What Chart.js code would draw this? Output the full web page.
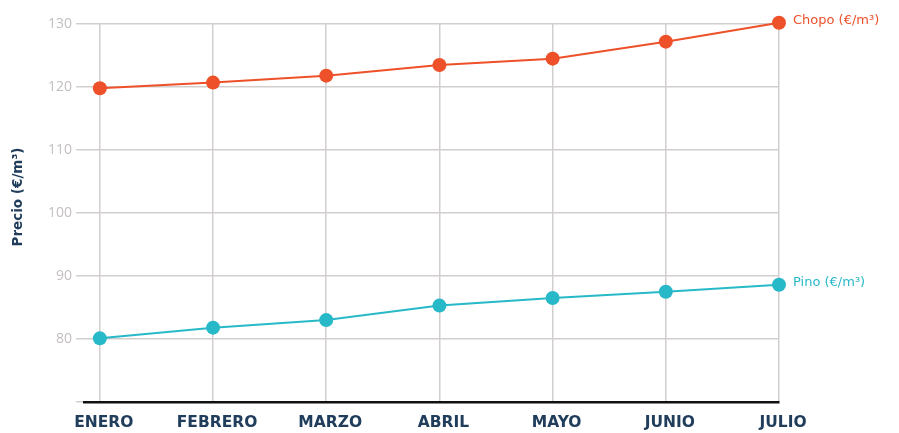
<!DOCTYPE html>
<html>
<head>
<meta charset="utf-8">
<script src="https://cdn.jsdelivr.net/npm/chart.js@4/dist/chart.umd.min.js"></script>
<style>
  html, body { margin: 0; padding: 0; background: #fff; }
  #wrap { width: 899px; height: 433px; }
</style>
</head>
<body>
<div id="wrap"><canvas id="grafico"></canvas></div>
<script>
// Datos
const meses = ['ENERO', 'FEBRERO', 'MARZO', 'ABRIL', 'MAYO', 'JUNIO', 'JULIO'];
const chopo = [119.8, 120.7, 121.8, 123.5, 124.5, 127.2, 130.2];
const pino = [80.1, 81.8, 83.0, 85.3, 86.5, 87.5, 88.6];
const yTicks = [70, 80, 90, 100, 110, 120, 130];

const NARANJA = '#ee5029';
const TURQUESA = '#27b9c8';
const AZUL = '#203d5c';
const GRID = '#d3cece';

// Etiqueta al final de cada serie
const etiquetasFinal = {
    id: 'etiquetasFinal',
    afterDatasetsDraw(chart) {
        const ctx = chart.ctx;
        ctx.save();
        ctx.font = '13px "DejaVu Sans"';
        ctx.textBaseline = 'middle';
        chart.data.datasets.forEach((ds, i) => {
            const pts = chart.getDatasetMeta(i).data;
            const p = pts[pts.length - 1];
            ctx.fillStyle = ds.borderColor;
            ctx.fillText(ds.label, p.x + 14, p.y - 2);
        });
        ctx.restore();
    }
};

// Título del eje Y
const tituloY = {
    id: 'tituloY',
    afterDraw(chart) {
        const ctx = chart.ctx;
        ctx.save();
        ctx.translate(18, chart.chartArea.top + 173);
        ctx.rotate(-Math.PI / 2);
        ctx.font = 'bold 13.5px "DejaVu Sans"';
        ctx.fillStyle = AZUL;
        ctx.textAlign = 'center';
        ctx.textBaseline = 'middle';
        ctx.fillText('Precio (€/m³)', 0, 0);
        ctx.restore();
    }
};

const serie = (label, valores, color) => ({
    label: label,
    data: valores.map((v, i) => ({ x: i, y: v })),
    borderColor: color,
    backgroundColor: color,
    borderWidth: 2,
    tension: 0,
    pointRadius: 7,
    pointHoverRadius: 7,
    pointBorderWidth: 0,
    clip: false
});

new Chart(document.getElementById('grafico'), {
    type: 'line',
    data: {
        datasets: [
            serie('Chopo (€/m³)', chopo, NARANJA),
            serie('Pino (€/m³)', pino, TURQUESA)
        ]
    },
    options: {
        responsive: true,
        maintainAspectRatio: false,
        animation: false,
        layout: { padding: { top: 24, right: 120, left: 0, bottom: 0 } },
        plugins: {
            legend: { display: false },
            tooltip: { enabled: false }
        },
        scales: {
            x: {
                type: 'linear',
                min: -0.14,
                max: meses.length - 1,
                afterBuildTicks: (s) => { s.ticks = meses.map((m, i) => ({ value: i })); },
                afterFit: (s) => { s.height = 31; },
                grid: { color: GRID, lineWidth: 1.5, drawTicks: false },
                border: { color: '#111', width: 2.5 },
                ticks: {
                    padding: 12,
                    labelOffset: 4,
                    color: AZUL,
                    font: { family: '"DejaVu Sans"', size: 15.5, weight: 'bold' },
                    callback: (v) => meses[v]
                }
            },
            y: {
                min: 70,
                max: 130,
                afterBuildTicks: (s) => { s.ticks = yTicks.map(v => ({ value: v })); },
                afterFit: (s) => { s.width = 84; },
                grid: { color: GRID, lineWidth: 1.5, tickLength: 8 },
                border: { display: false },
                ticks: {
                    padding: 4,
                    color: '#c4bfbf',
                    font: { family: '"Open Sans"', size: 14 },
                    callback: (v) => (v === 70 ? '' : v)
                }
            }
        }
    },
    plugins: [etiquetasFinal, tituloY]
});
</script>
</body>
</html>
